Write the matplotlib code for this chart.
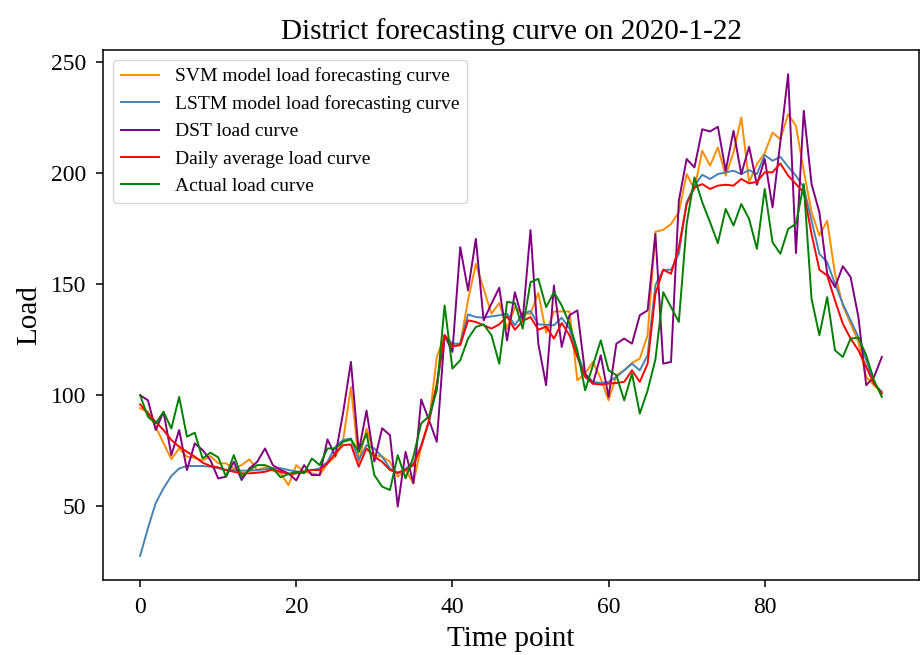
import matplotlib
matplotlib.use('Agg')
import matplotlib.pyplot as plt

plt.rcParams['font.family'] = ['Liberation Serif', 'DejaVu Serif']

# time points 0..95
time_points = list(range(96))

svm_load = [94.0, 92.4, 85.7, 78.2, 71.1, 75.9, 72.2, 71.7, 70.4, 72.5,
            69.2, 69.2, 66.9, 68.4, 71.0, 66.2, 67.4, 65.9, 64.7, 59.4,
            68.4, 65.4, 64.7, 63.9, 69.2, 72.2, 79.7, 103.6, 69.9, 84.9,
            72.9, 72.2, 69.9, 63.2, 66.2, 60.2, 76.7, 87.9, 117.1, 126.9,
            121.6, 123.1, 142.6, 159.1, 147.8, 136.6, 141.4, 129.9, 139.6, 136.6,
            136.6, 145.9, 128.0, 137.6, 137.6, 137.6, 106.6, 109.6, 114.9, 107.4,
            97.6, 108.9, 111.1, 114.4, 116.4, 126.9, 173.5, 174.4, 177.0, 182.3,
            199.5, 192.8, 210.0, 203.3, 211.5, 198.8, 209.3, 225.0, 195.8, 204.0,
            209.0, 218.2, 215.2, 226.5, 221.2, 201.0, 182.3, 171.8, 178.5, 154.6,
            140.3, 132.1, 123.9, 108.1, 104.4, 101.4]

lstm_load = [27.5, 40.0, 51.3, 58.0, 63.5, 66.9, 68.0, 68.0, 68.0, 67.7,
             67.0, 66.2, 66.2, 65.9, 65.9, 66.2, 66.5, 67.0, 67.0, 66.2,
             65.5, 65.5, 66.2, 66.9, 69.9, 76.7, 79.7, 80.4, 70.7, 77.4,
             75.9, 72.2, 66.9, 64.7, 66.9, 69.2, 77.4, 87.9, 103.6, 126.9,
             123.1, 123.1, 136.3, 135.1, 134.8, 135.4, 135.9, 136.6, 131.4, 136.6,
             137.8, 131.8, 131.6, 131.4, 134.8, 129.9, 118.6, 109.6, 105.9, 105.4,
             105.9, 108.1, 111.1, 114.1, 111.1, 117.9, 149.5, 156.4, 156.4, 163.6,
             186.8, 194.3, 199.2, 197.3, 199.5, 200.3, 201.0, 199.5, 201.3, 199.5,
             208.1, 205.5, 207.3, 202.8, 198.8, 193.5, 178.5, 163.6, 159.8, 150.1,
             141.1, 133.6, 126.1, 115.6, 105.1, 101.4]

dst_load = [99.9, 97.6, 84.2, 92.4, 72.9, 84.2, 66.2, 78.2, 75.2, 70.7,
            62.4, 63.2, 69.9, 61.7, 66.9, 69.9, 75.9, 68.4, 66.2, 64.7,
            61.5, 68.4, 63.9, 63.9, 80.0, 72.5, 92.0, 114.9, 74.4, 93.0,
            70.0, 85.0, 81.9, 49.7, 74.4, 60.2, 98.0, 88.7, 78.9, 126.9,
            119.4, 166.6, 147.1, 170.3, 133.6, 141.1, 148.3, 124.6, 146.3, 133.6,
            174.3, 123.1, 104.4, 149.3, 121.6, 135.9, 138.1, 109.6, 105.1, 117.9,
            99.1, 123.1, 125.4, 123.1, 135.9, 138.1, 172.5, 114.1, 114.9, 187.5,
            206.3, 202.5, 219.7, 218.7, 220.8, 201.0, 219.0, 199.5, 211.8, 194.7,
            206.3, 184.5, 214.0, 244.5, 163.9, 228.0, 195.0, 182.3, 154.6, 148.6,
            158.0, 153.1, 135.1, 104.4, 108.1, 117.1]

daily_avg_load = [95.8, 91.6, 87.9, 84.2, 79.7, 76.7, 74.4, 72.2, 69.5, 68.0,
                  67.4, 66.2, 65.4, 64.7, 64.7, 65.0, 65.4, 66.5, 65.4, 64.3,
                  64.7, 65.4, 66.2, 66.2, 69.2, 73.7, 77.4, 77.7, 67.7, 75.9,
                  72.2, 69.9, 66.2, 65.0, 66.2, 68.4, 76.7, 88.7, 105.1, 126.9,
                  121.9, 122.4, 133.6, 132.9, 131.4, 129.9, 131.8, 135.4, 129.4, 133.3,
                  135.1, 129.4, 130.8, 125.4, 132.4, 126.9, 117.1, 108.1, 105.1, 104.7,
                  105.1, 105.4, 105.9, 111.1, 105.9, 114.1, 145.6, 156.4, 154.6, 166.6,
                  186.0, 193.5, 195.0, 192.8, 194.3, 194.7, 194.3, 197.3, 195.3, 196.0,
                  200.3, 200.3, 204.3, 198.8, 195.0, 191.3, 172.5, 156.4, 153.8, 142.6,
                  132.1, 125.4, 120.1, 112.6, 105.1, 100.6]

actual_load = [99.9, 90.2, 87.2, 92.4, 84.9, 99.1, 81.2, 83.0, 71.4, 74.0,
               71.9, 63.2, 72.9, 63.2, 66.2, 68.4, 68.4, 66.9, 62.9, 64.4,
               65.4, 64.7, 71.4, 68.4, 75.9, 75.9, 78.9, 80.0, 74.4, 82.7,
               63.9, 58.7, 57.2, 72.9, 62.4, 72.2, 87.2, 90.4, 102.1, 140.3,
               111.9, 115.6, 125.4, 130.6, 131.8, 126.9, 114.1, 141.9, 141.4, 129.9,
               150.8, 152.3, 139.6, 146.3, 140.3, 132.1, 120.1, 102.1, 113.4, 124.6,
               111.1, 108.9, 97.6, 109.6, 91.6, 102.0, 116.0, 146.3, 139.6, 132.9,
               177.0, 198.0, 186.8, 177.8, 168.4, 183.8, 176.3, 186.0, 179.3, 165.8,
               192.8, 168.8, 163.6, 174.8, 177.1, 195.0, 143.3, 126.9, 144.1, 120.1,
               117.1, 125.4, 125.8, 117.9, 106.6, 99.1]

series = [
    (svm_load, 'darkorange', 'SVM model load forecasting curve'),
    (lstm_load, 'steelblue', 'LSTM model load forecasting curve'),
    (dst_load, 'purple', 'DST load curve'),
    (daily_avg_load, 'red', 'Daily average load curve'),
    (actual_load, 'green', 'Actual load curve'),
]

fig = plt.figure(figsize=(9.24, 6.55), dpi=100)
ax = fig.add_axes([0.1115, 0.1145, 0.883, 0.809])

for values, color, label in series:
    ax.plot(time_points, values, color=color, linewidth=1.4, label=label)

ax.set_title('District forecasting curve on 2020-1-22', fontsize=21, pad=8)
ax.set_xlabel('Time point', fontsize=21, labelpad=6)
ax.set_ylabel('Load', fontsize=21, labelpad=6)
ax.tick_params(labelsize=17, width=1.1, length=5, pad=7)
for sp in ax.spines.values():
    sp.set_linewidth(1.1)
ax.set_xticks([0, 20, 40, 60, 80])
ax.set_yticks([50, 100, 150, 200, 250])
ax.legend(loc='upper left', fontsize=14, borderaxespad=0.5)

fig.savefig('out.png', dpi=100)
